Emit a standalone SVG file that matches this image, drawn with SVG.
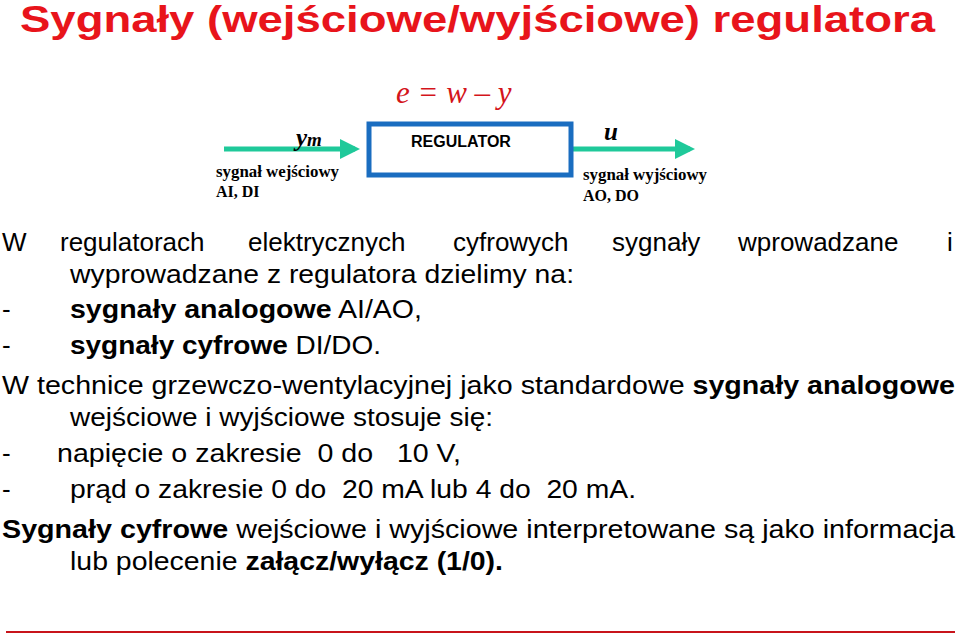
<svg xmlns="http://www.w3.org/2000/svg" width="960" height="635" viewBox="0 0 960 635">
<style>
.t{font-family:"Liberation Sans",Arial,sans-serif;font-size:26px;fill:#000}
.b{font-weight:bold}
.s{font-family:"Liberation Serif","Times New Roman",serif;font-weight:bold;font-size:16px;fill:#000}
.m{font-family:"Liberation Serif","Times New Roman",serif;font-style:italic}
</style>
<defs><marker id="ah" markerWidth="4" markerHeight="4" refX="3" refY="2" orient="auto" markerUnits="strokeWidth"><path d="M0,0 L4,2 L0,4 Z" fill="#1fc99a"/></marker></defs>
<rect width="960" height="635" fill="#fff"/>
<text x="20" y="32" font-family="Liberation Sans,Arial,sans-serif" font-weight="bold" font-size="37" fill="#e8141b" textLength="915" lengthAdjust="spacingAndGlyphs">Sygnały (wejściowe/wyjściowe) regulatora</text>
<text x="396" y="103" class="m" font-size="31" fill="#d4141b">e = w – y</text>
<g id="connectors">
<line x1="224" y1="149" x2="355" y2="149" stroke="#1fc99a" stroke-width="5" marker-end="url(#ah)"/>
<line x1="573" y1="149" x2="690" y2="149" stroke="#1fc99a" stroke-width="5" marker-end="url(#ah)"/>
</g>
<g id="regulator">
<rect x="369" y="124" width="202" height="51" fill="#fff" stroke="#1a6dc0" stroke-width="5"/>
<text x="461" y="147" text-anchor="middle" font-family="Liberation Sans,Arial,sans-serif" font-weight="bold" font-size="16">REGULATOR</text>
</g>
<g id="input">
<text x="296" y="146" class="m" font-weight="bold" font-size="25">y<tspan font-size="19">m</tspan></text>
<text x="216" y="177" class="s" textLength="123" lengthAdjust="spacingAndGlyphs">sygnał wejściowy</text>
<text x="216" y="197" class="s">AI, DI</text>
</g>
<g id="output">
<text x="604" y="140" class="m" font-weight="bold" font-size="25">u</text>
<text x="583" y="180" class="s" textLength="124" lengthAdjust="spacingAndGlyphs">sygnał wyjściowy</text>
<text x="583" y="201" class="s">AO, DO</text>
</g>
<g id="body">
<text y="251" class="t"><tspan x="2">W</tspan><tspan x="60">regulatorach</tspan><tspan x="248">elektrycznych</tspan><tspan x="453">cyfrowych</tspan><tspan x="612">sygnały</tspan><tspan x="738">wprowadzane</tspan><tspan x="947">i</tspan></text>
<text x="70" y="283" class="t" textLength="504" lengthAdjust="spacingAndGlyphs">wyprowadzane z regulatora dzielimy na:</text>
<text x="2" y="318" class="t">-</text>
<text x="70" y="318" class="t" textLength="352" lengthAdjust="spacingAndGlyphs"><tspan class="b">sygnały analogowe</tspan> AI/AO,</text>
<text x="2" y="354" class="t">-</text>
<text x="70" y="354" class="t" textLength="311" lengthAdjust="spacingAndGlyphs"><tspan class="b">sygnały cyfrowe</tspan> DI/DO.</text>
<text x="2" y="394" class="t" textLength="953" lengthAdjust="spacingAndGlyphs">W technice grzewczo-wentylacyjnej jako standardowe <tspan class="b">sygnały analogowe</tspan></text>
<text x="70" y="426" class="t" textLength="423" lengthAdjust="spacingAndGlyphs">wejściowe i wyjściowe stosuje się:</text>
<text x="2" y="462" class="t">-</text>
<text x="57" y="462" class="t" xml:space="preserve" textLength="404" lengthAdjust="spacingAndGlyphs">napięcie o zakresie  0 do   10 V,</text>
<text x="2" y="498" class="t">-</text>
<text x="70" y="498" class="t" xml:space="preserve" textLength="566" lengthAdjust="spacingAndGlyphs">prąd o zakresie 0 do  20 mA lub 4 do  20 mA.</text>
<text x="2" y="538" class="t" textLength="953" lengthAdjust="spacingAndGlyphs"><tspan class="b">Sygnały cyfrowe</tspan> wejściowe i wyjściowe interpretowane są jako informacja</text>
<text x="70" y="570" class="t" textLength="433" lengthAdjust="spacingAndGlyphs">lub polecenie <tspan class="b">załącz/wyłącz (1/0).</tspan></text>
</g>
<line x1="6" y1="632" x2="955" y2="632" stroke="#c8141b" stroke-width="2"/>
</svg>
